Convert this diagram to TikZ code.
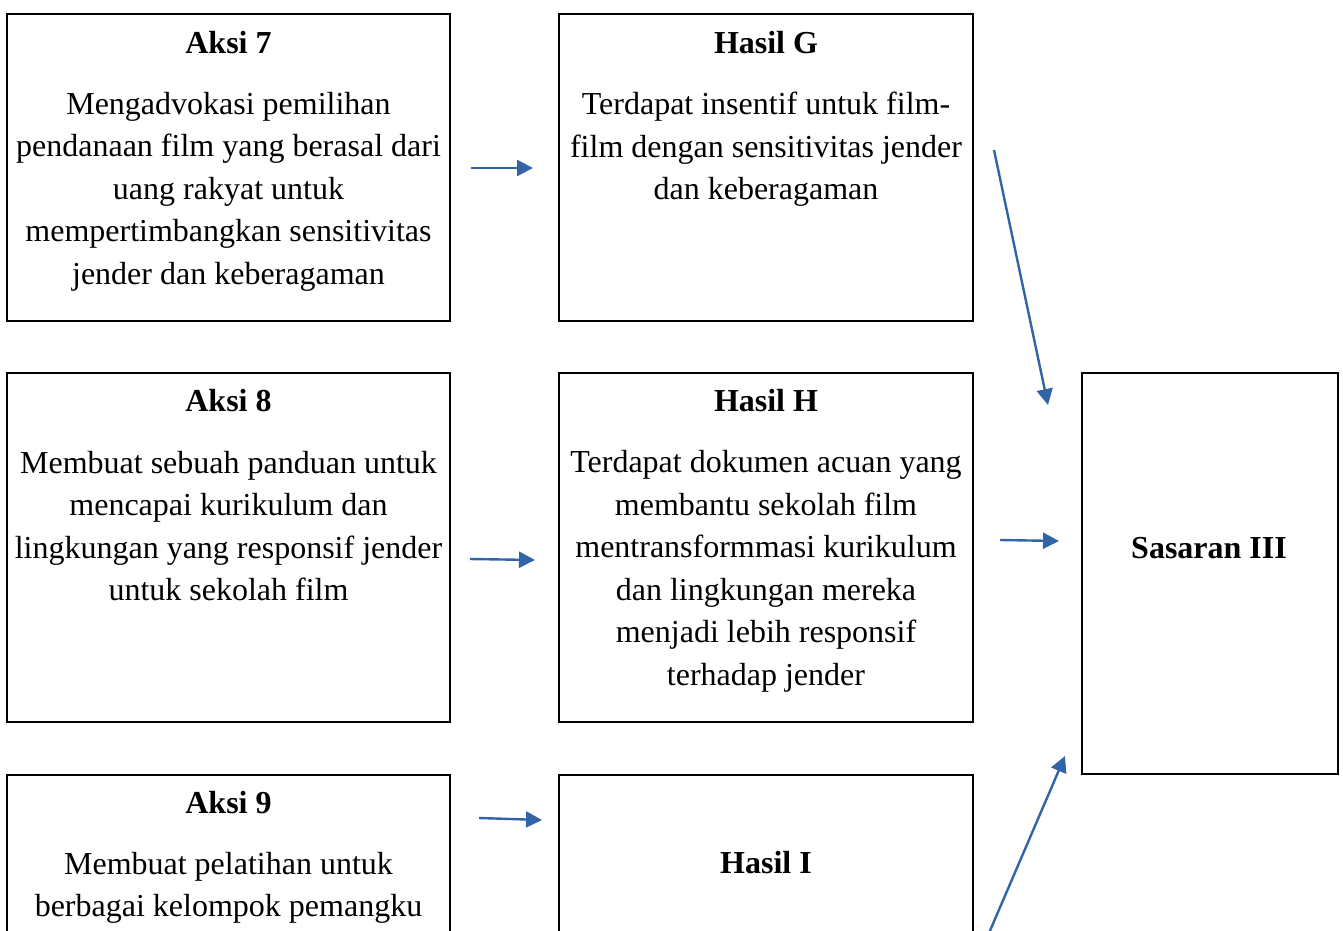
\documentclass[tikz,border=0pt]{standalone}
\usepackage{fontspec}
\setmainfont{Liberation Serif}
\usetikzlibrary{arrows.meta}
\definecolor{arrowblue}{RGB}{50,100,170}
\tikzset{
  box/.style={draw=black, line width=1.8pt, inner sep=0pt},
  heading/.style={font=\fontsize{32}{42.5}\selectfont\bfseries, inner sep=0pt},
  body/.style={font=\fontsize{32}{42.5}\selectfont, align=center, inner sep=0pt},
  link/.style={draw=arrowblue, line width=2.4pt, -{Triangle[length=16pt,width=16pt]}},
}
\begin{document}
\begin{tikzpicture}[x=1pt,y=-1pt]
\useasboundingbox (0,0) rectangle (1343,931);
\clip (0,0) rectangle (1343,931);

% boxes
\node[box, minimum width=443pt, minimum height=307pt] (a7) at (228.5,167.5) {};
\node[box, minimum width=414pt, minimum height=307pt] (hg) at (766,167.5) {};
\node[box, minimum width=443pt, minimum height=349pt] (a8) at (228.5,547.5) {};
\node[box, minimum width=414pt, minimum height=349pt] (hh) at (766,547.5) {};
\node[box, minimum width=443pt, minimum height=300pt] (a9) at (228.5,925) {};
\node[box, minimum width=414pt, minimum height=300pt] (hi) at (766,925) {};
\node[box, minimum width=256pt, minimum height=401pt] (s3) at (1210,573.5) {};

% texts
\node[heading] (a7t) at (228.5,43) {Aksi 7};
\node[body] (a7b) at (228.5,191.5) {Mengadvokasi pemilihan\\pendanaan film yang berasal dari\\uang rakyat untuk\\mempertimbangkan sensitivitas\\jender dan keberagaman};
\node[heading] (hgt) at (766,43) {Hasil G};
\node[body] (hgb) at (766,149.5) {Terdapat insentif untuk film-\\film dengan sensitivitas jender\\dan keberagaman};
\node[heading] (a8t) at (228.5,401) {Aksi 8};
\node[body] (a8b) at (228.5,526) {Membuat sebuah panduan untuk\\mencapai kurikulum dan\\lingkungan yang responsif jender\\untuk sekolah film};
\node[heading] (hht) at (766,401) {Hasil H};
\node[body] (hhb) at (766,571.5) {Terdapat dokumen acuan yang\\membantu sekolah film\\mentransformmasi kurikulum\\dan lingkungan mereka\\menjadi lebih responsif\\terhadap jender};
\node[heading] (a9t) at (228.5,803) {Aksi 9};
\node[body] (a9b) at (228.5,888) {Membuat pelatihan untuk\\berbagai kelompok pemangku};
\node[heading] (hit) at (766,863) {Hasil I};
\node[heading] (s3t) at (1209,548) {Sasaran III};

% arrow ends
\coordinate (e1a) at (471,168);  \coordinate (e1b) at (533,168);
\coordinate (e2a) at (470,559);  \coordinate (e2b) at (535,560);
\coordinate (e3a) at (479,818);  \coordinate (e3b) at (542,820);
\coordinate (e4a) at (1000,540); \coordinate (e4b) at (1059,541);
\coordinate (e5a) at (994,150);  \coordinate (e5b) at (1048,405);
\coordinate (e6a) at (986,940);  \coordinate (e6b) at (1065,756);

\draw[link] (e1a) -- (e1b);
\draw[link] (e2a) -- (e2b);
\draw[link] (e3a) -- (e3b);
\draw[link] (e4a) -- (e4b);
\draw[link] (e5a) -- (e5b);
\draw[link] (e6a) -- (e6b);
\end{tikzpicture}
\end{document}
